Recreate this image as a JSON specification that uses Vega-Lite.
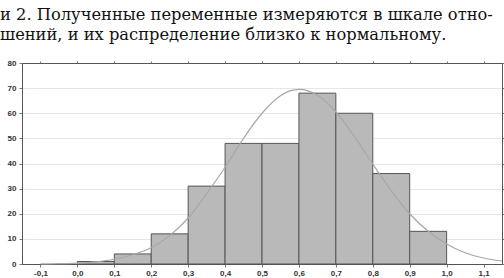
{
  "$schema": "https://vega.github.io/schema/vega-lite/v6.json",
  "width": 480,
  "height": 201,
  "autosize": {"type": "none"},
  "padding": {"left": 22, "top": 63, "right": 2, "bottom": 14},
  "background": "white",
  "title": {
    "text": ["и 2. Полученные переменные измеряются в шкале отно-", "шений, и их распределение близко к нормальному."],
    "anchor": "start",
    "frame": "group",
    "dx": -22,
    "font": "DejaVu Serif, serif",
    "fontSize": 16.3,
    "fontWeight": "normal",
    "color": "#111",
    "lineHeight": 20,
    "baseline": "bottom",
    "offset": 0,
    "limit": 0
  },
  "config": {
    "view": {"stroke": "#555", "strokeWidth": 1},
    "axis": {
      "labelFont": "Liberation Sans",
      "labelFontSize": 8,
      "labelFontWeight": "bold",
      "labelColor": "#333",
      "tickColor": "#777",
      "tickSize": 3,
      "domainColor": "#555",
      "gridColor": "#e6e6e6",
      "title": null
    }
  },
  "datasets": {
    "bins": [
      {"start": 0.0, "end": 0.1, "count": 1},
      {"start": 0.1, "end": 0.2, "count": 4},
      {"start": 0.2, "end": 0.3, "count": 12},
      {"start": 0.3, "end": 0.4, "count": 31},
      {"start": 0.4, "end": 0.5, "count": 48},
      {"start": 0.5, "end": 0.6, "count": 48},
      {"start": 0.6, "end": 0.7, "count": 68},
      {"start": 0.7, "end": 0.8, "count": 60},
      {"start": 0.8, "end": 0.9, "count": 36},
      {"start": 0.9, "end": 1.0, "count": 13}
    ],
    "curve": [
      {"x": -0.1, "y": 0.06}, {"x": -0.05, "y": 0.15}, {"x": 0.0, "y": 0.38},
      {"x": 0.05, "y": 0.88}, {"x": 0.1, "y": 1.88}, {"x": 0.15, "y": 3.7},
      {"x": 0.2, "y": 6.5}, {"x": 0.25, "y": 11.3}, {"x": 0.3, "y": 18.3},
      {"x": 0.35, "y": 28}, {"x": 0.4, "y": 38.5}, {"x": 0.45, "y": 50},
      {"x": 0.5, "y": 60}, {"x": 0.55, "y": 67}, {"x": 0.6, "y": 69.5},
      {"x": 0.65, "y": 67.2}, {"x": 0.7, "y": 60.6}, {"x": 0.75, "y": 50.8},
      {"x": 0.8, "y": 39.8}, {"x": 0.85, "y": 29.2}, {"x": 0.9, "y": 20},
      {"x": 0.95, "y": 13}, {"x": 1.0, "y": 8}, {"x": 1.05, "y": 4.5},
      {"x": 1.1, "y": 2.4}, {"x": 1.15, "y": 1.2}
    ]
  },
  "layer": [
    {
      "data": {"name": "bins"},
      "mark": {"type": "rect", "fill": "#b9b9b9", "stroke": "#555", "strokeWidth": 1},
      "encoding": {
        "x": {
          "field": "start", "type": "quantitative",
          "scale": {"domain": [-0.15, 1.15], "nice": false, "zero": false},
          "axis": {
            "orient": "bottom",
            "values": [-0.1, 0, 0.1, 0.2, 0.3, 0.4, 0.5, 0.6, 0.7, 0.8, 0.9, 1.0, 1.1],
            "format": ".1f",
            "labelExpr": "replace(replace(datum.label, '.', ','), '−', '-')",
            "grid": false,
            "labelPadding": 2
          }
        },
        "x2": {"field": "end"},
        "y": {
          "field": "count", "type": "quantitative",
          "scale": {"domain": [0, 80], "nice": false},
          "axis": {"orient": "left", "values": [0, 10, 20, 30, 40, 50, 60, 70, 80], "grid": true, "labelPadding": 3}
        },
        "y2": {"datum": 0}
      }
    },
    {
      "data": {"name": "curve"},
      "mark": {"type": "line", "color": "#a8a8a8", "strokeWidth": 1.2, "interpolate": "monotone"},
      "encoding": {
        "x": {
          "field": "x", "type": "quantitative",
          "scale": {"domain": [-0.15, 1.15], "nice": false, "zero": false},
          "axis": {"orient": "top", "values": [-0.1, 0, 0.1, 0.2, 0.3, 0.4, 0.5, 0.6, 0.7, 0.8, 0.9, 1.0, 1.1], "labels": false, "grid": false, "tickSize": 2}
        },
        "y": {
          "field": "y", "type": "quantitative",
          "scale": {"domain": [0, 80], "nice": false},
          "axis": {"orient": "right", "values": [0, 10, 20, 30, 40, 50, 60, 70, 80], "labels": false, "grid": false, "tickSize": 2}
        }
      }
    }
  ],
  "resolve": {"axis": {"x": "independent", "y": "independent"}}
}
